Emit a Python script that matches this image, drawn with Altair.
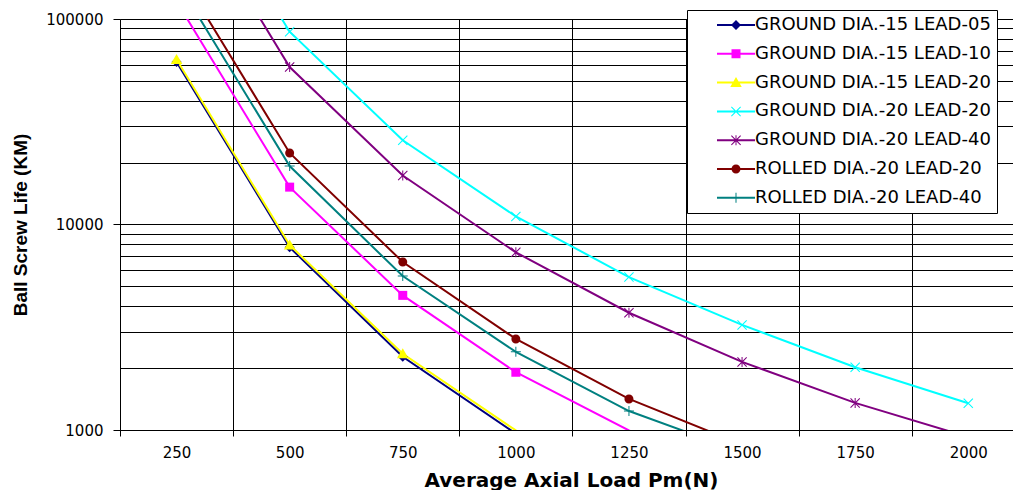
import altair as alt
import pandas as pd

# ---------------- data ----------------
series = [
    "GROUND DIA.-15 LEAD-05",
    "GROUND DIA.-15 LEAD-10",
    "GROUND DIA.-15 LEAD-20",
    "GROUND DIA.-20 LEAD-20",
    "GROUND DIA.-20 LEAD-40",
    "ROLLED DIA.-20 LEAD-20",
    "ROLLED DIA.-20 LEAD-40",
]
colors = ["#000080", "#FF00FF", "#FFFF00", "#00FFFF", "#800080", "#800000", "#008080"]
loads = [250, 500, 750, 1000, 1250, 1500, 1750, 2000]

life_g15_l05 = [61800, 7750, 2270, 960, 492]
life_g15_l10 = [121800, 15200, 4520, 1910, 995, 575]
life_g15_l20 = [63500, 7950, 2350, 995, 512]
life_g20_l20 = [690000, 86700, 25700, 10950, 5550, 3245, 2020, 1350]
life_g20_l40 = [467000, 58400, 17300, 7320, 3720, 2145, 1355, 925]
life_r20_l20 = [178000, 22300, 6570, 2775, 1416, 850]
life_r20_l40 = [154000, 19260, 5610, 2400, 1237, 780]
all_life = [life_g15_l05, life_g15_l10, life_g15_l20, life_g20_l20,
            life_g20_l40, life_r20_l20, life_r20_l40]

x_tick_labels = [250, 500, 750, 1000, 1250, 1500, 1750, 2000]
x_grid_values = [125, 375, 625, 875, 1125, 1375, 1625, 1875]
y_grid_values = [1000, 2000, 3000, 4000, 5000, 6000, 7000, 8000, 9000,
                 10000, 20000, 30000, 40000, 50000, 60000, 70000, 80000, 90000, 100000]
y_tick_labels = [1000, 10000, 100000]

rows = []
for name, vals in zip(series, all_life):
    for ld, v in zip(loads, vals):
        rows.append({"series": name, "load": ld, "life": v})
df = pd.DataFrame(rows)

# ---------------- marker shapes (unit square -1..1) ----------------
diamond = "M0,-1L1,0L0,1L-1,0Z"
square = "M-0.9,-0.9H0.9V0.9H-0.9Z"
triangle = "M0,-1.1L1.15,0.9L-1.15,0.9Z"
xmark = "M-1,-0.85L-0.85,-1L1,0.85L0.85,1Z M1,-0.85L-0.85,1L-1,0.85L0.85,-1Z"
asterisk = xmark + " M-0.1,-1H0.1V1H-0.1Z"
circle = "M-0.9,0A0.9,0.9,0,1,1,0.9,0A0.9,0.9,0,1,1,-0.9,0Z"
plus = "M-1,-0.1H1V0.1H-1Z M-0.1,-1H0.1V1H-0.1Z"
markers = [diamond, square, triangle, xmark, asterisk, circle, plus]
seg = "M-3.8,-0.2H3.8V0.2H-3.8Z "
legend_shapes = [seg + m for m in markers]

# ---------------- encodings ----------------
label_test = "indexof([" + ",".join(str(v) for v in y_tick_labels) + "], datum.value) >= 0"

x_enc = alt.X(
    "load:Q",
    scale=alt.Scale(domain=[125, 2098.9], nice=False, zero=False),
    axis=alt.Axis(
        values=x_grid_values,
        grid=True, gridColor="#000000", gridOpacity=1, gridWidth=1,
        domainColor="#000000", tickColor="#000000", tickSize=6,
        labelExpr="format(datum.value + 125, 'd')",
        labelOffset=56.55, labelPadding=9, labelFlush=False, labelOverlap=False,
        labelFont="DejaVu Sans", labelFontSize=15, labelColor="#000000",
        title="Average Axial Load Pm(N)", titleFont="DejaVu Sans",
        titleFontWeight="bold", titleFontSize=20, titleColor="#000000",
        titleX=451, titleY=56, titleAlign="center", titleBaseline="alphabetic",
    ),
)
y_enc = alt.Y(
    "life:Q",
    scale=alt.Scale(type="log", domain=[1000, 100000], nice=False),
    axis=alt.Axis(
        values=y_grid_values,
        grid=True, gridColor="#000000", gridOpacity=1, gridWidth=1,
        domainColor="#000000", tickColor="#000000", tickSize=7,
        tickOpacity={"condition": {"test": label_test, "value": 1}, "value": 0},
        labelExpr=label_test + " ? format(datum.value, 'd') : ''",
        labelPadding=10, labelFlush=False, labelOverlap=False,
        labelFont="DejaVu Sans", labelFontSize=15, labelColor="#000000",
        title="Ball Screw Life (KM)", titleFont="Liberation Sans",
        titleFontWeight="bold", titleFontSize=19, titleColor="#000000",
        titleX=-94, titleY=205.5, titleAngle=270, titleAlign="center",
        titleBaseline="alphabetic",
    ),
)
color_scale = alt.Scale(domain=series, range=colors)

legend_cfg = dict(
    title=None, orient="none", legendX=567, legendY=-9, direction="vertical",
    padding=6, rowPadding=10.8, symbolSize=100, symbolStrokeWidth=0,
    symbolOffset=34, labelOffset=10, labelFont="DejaVu Sans", labelFontSize=18,
    labelColor="#000000", labelLimit=400, strokeColor="#000000",
    fillColor="#FFFFFF", cornerRadius=0,
)
# legend-only layer (first, so its legend settings win); its marks sit outside the clipped plot
legend_layer = alt.Chart(df).mark_point(
    filled=True, opacity=1, size=100, clip=True
).encode(
    x=alt.value(-400), y=alt.value(-400),
    color=alt.Color("series:N", scale=color_scale, legend=alt.Legend(**legend_cfg)),
    shape=alt.Shape("series:N", scale=alt.Scale(domain=series, range=legend_shapes),
                    legend=alt.Legend(**legend_cfg)),
)

lines = alt.Chart(df).mark_line(strokeWidth=2, clip=True).encode(
    x=x_enc, y=y_enc,
    color=alt.Color("series:N", scale=color_scale, legend=None),
    order="load:Q",
)

point_layers = []
for name, col, shp in zip(series, colors, markers):
    point_layers.append(
        alt.Chart(df)
        .transform_filter((alt.datum.series == name) & (alt.datum.life >= 1000)
                          & (alt.datum.life <= 100000))
        .mark_point(shape=shp, filled=True, color=col, opacity=1, size=100,
                    strokeWidth=0, clip=True)
        .encode(x=x_enc, y=y_enc)
    )

chart = alt.layer(legend_layer, lines, *point_layers).properties(
    width=893, height=411,
    autosize=alt.AutoSizeParams(type="none"),
    padding={"left": 112, "top": 11, "right": 0, "bottom": 60},
    background="#FFFFFF",
).configure_view(stroke=None)

chart.save("out.html", embed_options={"renderer": "svg", "actions": False})
